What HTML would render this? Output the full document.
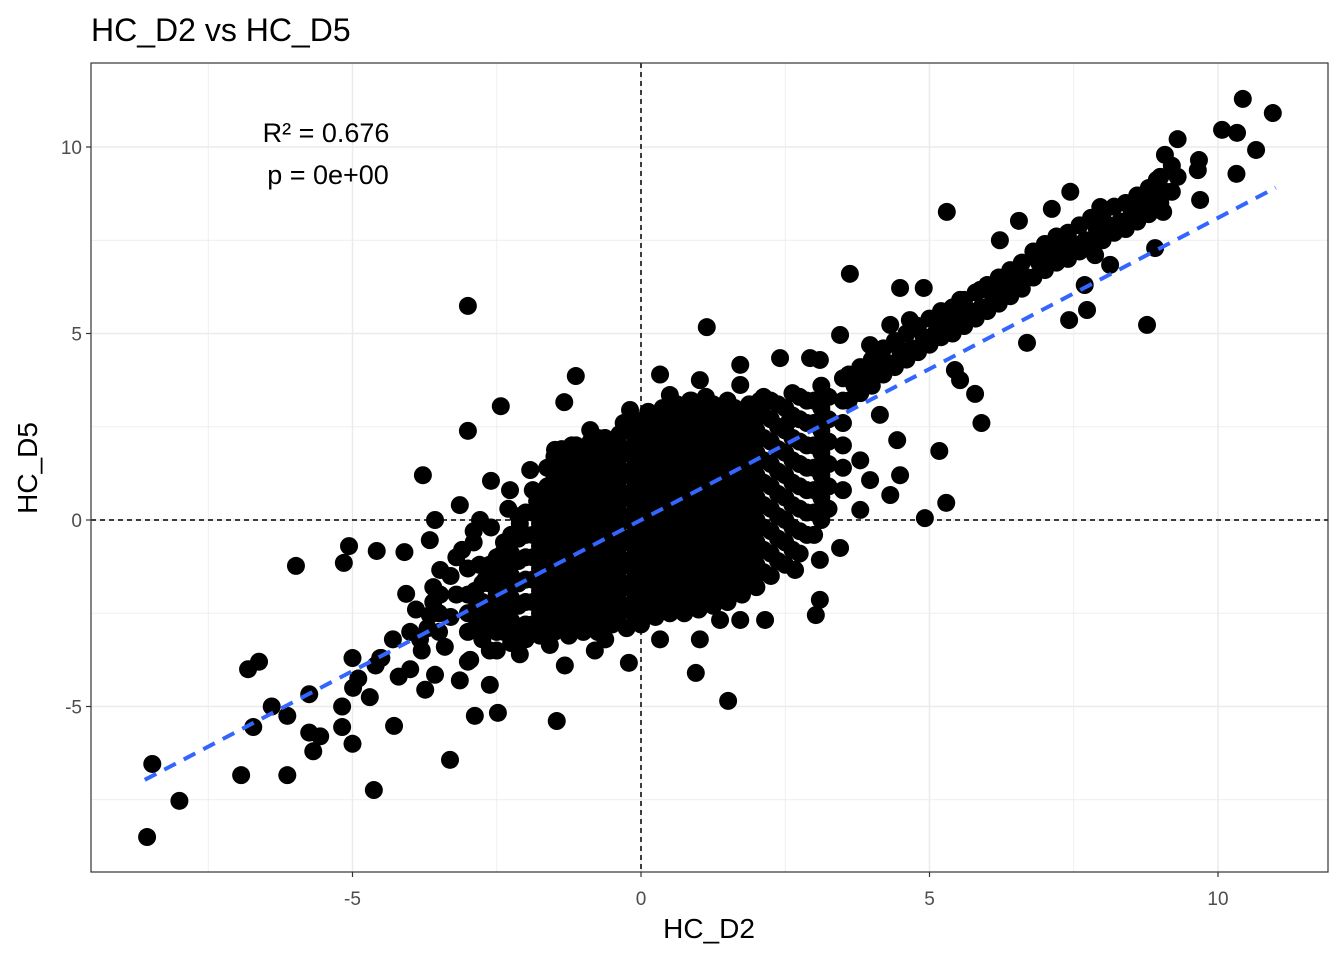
<!DOCTYPE html>
<html><head><meta charset="utf-8"><style>
body{margin:0;background:#fff}
svg text{font-family:"Liberation Sans",sans-serif}
</style></head><body>
<svg id="chart" width="1344" height="960" xmlns="http://www.w3.org/2000/svg">
<rect width="1344" height="960" fill="#fff"/>
<text x="91" y="41" font-size="32" fill="#000">HC_D2 vs HC_D5</text>
<g id="grid"></g>
<g id="zero"></g>
<g id="pts"></g>
<g id="fit"></g>
<rect x="91" y="63" width="1237" height="809" fill="none" stroke="#333" stroke-width="1.2"/>
<text x="326" y="142" font-size="27" text-anchor="middle">R² = 0.676</text>
<text x="328" y="184" font-size="27" text-anchor="middle">p = 0e+00</text>
<g id="axes"></g>
<text x="709" y="938" font-size="28" text-anchor="middle">HC_D2</text>
<text transform="translate(37,468) rotate(-90)" font-size="28" text-anchor="middle">HC_D5</text>
</svg>
<script>
const xTicks=[-5,0,5,10];
const yTicks=[-5,0,5,10];
const xMinor=[-7.5,-2.5,2.5,7.5];
const yMinor=[-7.5,-2.5,2.5,7.5];
const fitX=[-8.6,11];
const fitSlope=0.81;
const fitIntercept=0.0;
const outX=[-8.56,-8.47,-8.0,-6.93,-6.13,-6.81,-6.62,-6.72,-6.4,-6.13,-5.98,-5.75,-5.68,-5.75,-5.56,-5.18,-5.0,-5.18,-5.06,-5.15,-5.0,-4.9,-4.99,-4.7,-4.63,-4.58,-4.52,-4.28,-4.07,-4.1,-3.78,-3.31,-3.0,-3.0,-2.43,-2.88,-2.48,-2.6,-1.46,-1.13,-1.33,1.14,1.51,0.95,-0.21,3.62,5.3,4.49,4.9,4.92,5.29,5.17,5.9,5.79,6.69,7.73,8.77,7.42,7.44,7.12,6.55,7.96,10.43,10.95,10.07,10.33,9.3,10.66,10.32,9.65,9.67,9.08,8.94,9.69,8.91,8.7,9.05,7.87,8.13,7.69,7.08,6.22,6.48,5.88,5.53,5.18,4.66,4.32,3.97,3.45,3.1,2.93,2.41,1.72,1.72,4.14,4.49,5.44,5.53,4.14,4.44,3.8,3.97,4.32,4.49,3.8,3.45,3.1,3.1,3.03,2.67,2.15,1.72,1.37,1.02,0.33,-0.62,-1.32,-0.8,-1.58,-2.1,-2.62,-2.96,-2.62,-3.14,-3.57,-3.74,-4.0,-3.83,-3.66,-3.48,-3.48,-3.66,-3.57,-3.14,-2.79,-2.27,-1.92,-1.49,-0.88,-0.19,0.5,1.02,0.33,0.85,2.06,2.58,
-4,-3.5,-3.5,-4.5,-4.2,-3.8,-3.2,-2.8,-3,-2.5,-2.2,-1.8,-1.5,-1.2,-0.8,-0.3,-3.9,-3.6,-3.3,-3.1,-2.9,-4.3,-4.6,-3.4,-3.7,
-3.6,-3.2,-2.9,-2.6,-2.3,-3.3,-2.7,-2.4,-3.0,-2.1];
const outY=[-8.5,-6.54,-7.53,-6.84,-6.84,-4.0,-3.8,-5.55,-5.0,-5.25,-1.23,-4.67,-6.2,-5.7,-5.8,-5.55,-6.0,-5.0,-0.7,-1.15,-3.7,-4.25,-4.5,-4.75,-7.24,-0.83,-3.7,-5.52,-1.98,-0.86,1.2,-6.43,5.74,2.39,3.05,-5.25,-5.17,1.05,-5.39,3.86,3.16,5.17,-4.85,-4.1,-3.83,6.6,8.26,6.22,6.22,0.05,0.46,1.85,2.6,3.38,4.75,5.63,5.23,5.36,8.8,8.34,8.02,8.39,11.29,10.91,10.46,10.38,10.21,9.92,9.28,9.38,9.65,9.79,9.12,8.58,7.29,8.47,8.26,7.1,6.84,6.3,7.24,7.5,6.7,6.17,5.9,5.36,5.36,5.23,4.69,4.96,4.29,4.34,4.34,4.16,3.62,4.29,4.56,4.02,3.75,2.82,2.14,1.6,1.07,0.67,1.2,0.27,-0.75,-1.07,-2.14,-2.55,-1.34,-2.68,-2.68,-2.68,-3.2,-3.2,-3.2,-3.9,-3.5,-3.35,-3.6,-3.5,-3.75,-4.42,-4.3,-4.15,-4.55,-4.0,-3.2,-2.55,-2.0,-1.34,-0.54,0,0.4,0,0.8,1.34,1.88,2.41,2.95,3.35,3.75,3.9,3.2,3.2,2.68,
-3,-3,-2.5,-3.7,-4.2,-3.5,-2,-1.2,-3.8,-3.5,-0.5,0.5,1.7,2,2.2,2.6,-2.4,-1.8,-1.5,-0.8,-0.3,-3.2,-3.9,-3.4,-2.9,
-2.2,-1.0,-0.6,-0.2,0.3,-2.6,-1.6,-0.9,-1.3,-0.1];
const bandX=[3.6,3.8,4.0,4.2,4.4,4.6,4.8,5.0,5.2,5.4,5.6,5.8,6.0,6.2,6.4,6.6,6.8,7.0,7.2,7.4,7.6,7.8,8.0,8.2,8.4,8.6,8.8,9.0,9.2];
const bandYlo=[3.2,3.4,3.6,3.9,4.1,4.3,4.5,4.7,4.9,5.0,5.2,5.4,5.6,5.8,6.0,6.2,6.5,6.7,6.9,7.0,7.2,7.4,7.5,7.7,7.8,8.0,8.2,8.5,8.8];
const bandYmid=[3.6,3.8,4.0,4.2,4.5,4.6,4.9,5.0,5.3,5.4,5.6,5.7,6.0,6.2,6.4,6.5,6.9,7.1,7.3,7.4,7.5,7.8,7.9,8.0,8.2,8.4,8.6,8.8,9.2];
const bandYhi=[3.9,4.1,4.3,4.6,4.8,5.0,5.2,5.4,5.6,5.7,5.9,6.1,6.3,6.5,6.7,6.9,7.2,7.4,7.6,7.7,7.9,8.1,8.2,8.4,8.5,8.7,8.9,9.2,9.5];
const coreCols=[-3,-2.75,-2.5,-2.25,-2,-1.75,-1.5,-1.25,-1,-0.75,-0.5,-0.25,0,0.25,0.5,0.75,1,1.25,1.5,1.75,2,2.25,2.5,2.75,3,3.25,3.5];
const coreYs=[[-3,-2.5,-2],[-3.2,-2.7,-2.2,-1.7],[-3,-2.6,-2,-1.5,-1],[-3.3,-2.7,-2.1,-1.5,-0.9,-0.4],[-3.2,-2.8,-2.2,-1.6,-1,-0.4,0.2],[-3.1,-2.5,-1.9,-1.3,-0.7,-0.1,0.5],[-3,-2.4,-1.8,-1.2,-0.6,0,0.6,1.2],[-3.1,-2.5,-1.9,-1.3,-0.7,-0.1,0.5,1.1,1.6],[-3,-2.4,-1.8,-1.2,-0.6,0,0.6,1.2,1.8],[-3,-2.4,-1.8,-1.2,-0.6,0,0.6,1.2,1.8,2.2],[-2.8,-2.2,-1.6,-1,-0.4,0.2,0.8,1.4,2],[-2.9,-2.3,-1.7,-1.1,-0.5,0.1,0.7,1.3,1.9,2.4],[-2.8,-2.2,-1.6,-1,-0.4,0.2,0.8,1.4,2,2.5],[-2.6,-2,-1.4,-0.8,-0.2,0.4,1,1.6,2.2,2.7],[-2.5,-1.9,-1.3,-0.7,-0.1,0.5,1.1,1.7,2.3,2.8],[-2.5,-1.9,-1.3,-0.7,-0.1,0.5,1.1,1.7,2.3,2.9],[-2.4,-1.8,-1.2,-0.6,0,0.6,1.2,1.8,2.4,3],[-2.3,-1.7,-1.1,-0.5,0.1,0.7,1.3,1.9,2.5,3.1],[-2.2,-1.6,-1,-0.4,0.2,0.8,1.4,2,2.6,3.2],[-2,-1.4,-0.8,-0.2,0.4,1,1.6,2.2,2.8],[-1.8,-1.2,-0.6,0,0.6,1.2,1.8,2.4,3],[-1.5,-0.9,-0.3,0.3,0.9,1.5,2.1,2.7,3.2],[-1.2,-0.6,0,0.6,1.2,1.8,2.4,3],[-0.9,-0.3,0.3,0.9,1.5,2.1,2.7,3.3],[-0.4,0.2,0.8,1.4,2,2.6,3.2],[0.3,0.9,1.5,2.1,2.7,3.3],[0.8,1.4,2,2.6,3.2,3.8]];
const coreCols2=[-2.875,-2.625,-2.375,-2.125,-1.875,-1.625,-1.375,-1.125,-0.875,-0.625,-0.375,-0.125,0.125,0.375,0.625,0.875,1.125,1.375,1.625,1.875,2.125,2.375,2.625,2.875,3.125];
const coreYs2=[[-2.9,-2.4,-1.9],[-2.9,-2.3,-1.7,-1.2],[-3.0,-2.4,-1.8,-1.2,-0.6],[-2.9,-2.3,-1.7,-1.1,-0.5,0.1],[-2.8,-2.2,-1.6,-1.0,-0.4,0.2,0.8],[-2.7,-2.1,-1.5,-0.9,-0.3,0.3,0.9,1.4],[-2.8,-2.2,-1.6,-1.0,-0.4,0.2,0.8,1.4,1.9],[-2.7,-2.1,-1.5,-0.9,-0.3,0.3,0.9,1.5,2.0],[-2.7,-2.1,-1.5,-0.9,-0.3,0.3,0.9,1.5,2.1],[-2.6,-2.0,-1.4,-0.8,-0.2,0.4,1.0,1.6,2.2],[-2.5,-1.9,-1.3,-0.7,-0.1,0.5,1.1,1.7,2.3],[-2.5,-1.9,-1.3,-0.7,-0.1,0.5,1.1,1.7,2.3,2.7],[-2.4,-1.8,-1.2,-0.6,0,0.6,1.2,1.8,2.4,2.9],[-2.3,-1.7,-1.1,-0.5,0.1,0.7,1.3,1.9,2.5,3.0],[-2.2,-1.6,-1.0,-0.4,0.2,0.8,1.4,2.0,2.6,3.1],[-2.1,-1.5,-0.9,-0.3,0.3,0.9,1.5,2.1,2.7,3.2],[-2.0,-1.4,-0.8,-0.2,0.4,1.0,1.6,2.2,2.8,3.3],[-1.9,-1.3,-0.7,-0.1,0.5,1.1,1.7,2.3,2.9],[-1.8,-1.2,-0.6,0,0.6,1.2,1.8,2.4,3.0],[-1.6,-1.0,-0.4,0.2,0.8,1.4,2.0,2.6,3.1],[-1.4,-0.8,-0.2,0.4,1.0,1.6,2.2,2.8,3.3],[-1.1,-0.5,0.1,0.7,1.3,1.9,2.5,3.1],[-0.8,-0.2,0.4,1.0,1.6,2.2,2.8,3.4],[-0.4,0.2,0.8,1.4,2.0,2.6,3.2],[0,0.6,1.2,1.8,2.4,3.0,3.6]];
const NS='http://www.w3.org/2000/svg';
const X0=91,X1=1328,Y0=63,Y1=872;
function sx(v){return 641+v*57.7;}
function sy(v){return 520-v*37.3;}
function mk(tag,attrs,parent){const e=document.createElementNS(NS,tag);for(const k in attrs)e.setAttribute(k,attrs[k]);parent.appendChild(e);return e;}
const grid=document.getElementById('grid');
xMinor.forEach(v=>{const l=mk('line',{x1:sx(v),x2:sx(v),y1:Y0,y2:Y1,stroke:'#ebebeb','stroke-width':0.8},grid);});
yMinor.forEach(v=>{const l=mk('line',{x1:X0,x2:X1,y1:sy(v),y2:sy(v),stroke:'#ebebeb','stroke-width':0.8},grid);});
xTicks.forEach(v=>{const l=mk('line',{x1:sx(v),x2:sx(v),y1:Y0,y2:Y1,stroke:'#ebebeb','stroke-width':1.5},grid);});
yTicks.forEach(v=>{const l=mk('line',{x1:X0,x2:X1,y1:sy(v),y2:sy(v),stroke:'#ebebeb','stroke-width':1.5},grid);});
const zero=document.getElementById('zero');
let zl=mk('line',{x1:sx(0),x2:sx(0),y1:Y0,y2:Y1,stroke:'#000','stroke-width':1.5,'stroke-dasharray':'5,4'},zero);


zl=mk('line',{x1:X0,x2:X1,y1:sy(0),y2:sy(0),stroke:'#000','stroke-width':1.5,'stroke-dasharray':'5,4'},zero);


const pts=document.getElementById('pts');
function dot(x,y){const c=mk('circle',{cx:sx(x),cy:sy(y),r:9,fill:'#000'},pts);}
outX.forEach((x,i)=>dot(x,outY[i]));
bandX.forEach((x,i)=>{dot(x,bandYlo[i]);dot(x+0.1,bandYmid[i]);dot(x,bandYhi[i]);});
coreCols.forEach((x,i)=>coreYs[i].forEach(y=>dot(x,y)));
coreCols2.forEach((x,i)=>coreYs2[i].forEach(y=>dot(x,y)));
const fit=document.getElementById('fit');
const fl=mk('line',{x1:sx(fitX[0]),y1:sy(fitIntercept+fitSlope*fitX[0]),x2:sx(fitX[1]),y2:sy(fitIntercept+fitSlope*fitX[1]),stroke:'#3366ff','stroke-width':4,'stroke-dasharray':'13,9'},fit);


const axes=document.getElementById('axes');
xTicks.forEach(v=>{const t=mk('line',{x1:sx(v),x2:sx(v),y1:Y1,y2:Y1+5,stroke:'#333','stroke-width':1.2},axes);
const s=mk('text',{x:sx(v),y:905,'font-size':19,fill:'#4d4d4d','text-anchor':'middle'},axes);s.textContent=v;});
yTicks.forEach(v=>{const t=mk('line',{x1:X0-5,x2:X0,y1:sy(v),y2:sy(v),stroke:'#333','stroke-width':1.2},axes);
const s=mk('text',{x:X0-9,y:sy(v)+7,'font-size':19,fill:'#4d4d4d','text-anchor':'end'},axes);s.textContent=v;});
</script>
</body></html>
